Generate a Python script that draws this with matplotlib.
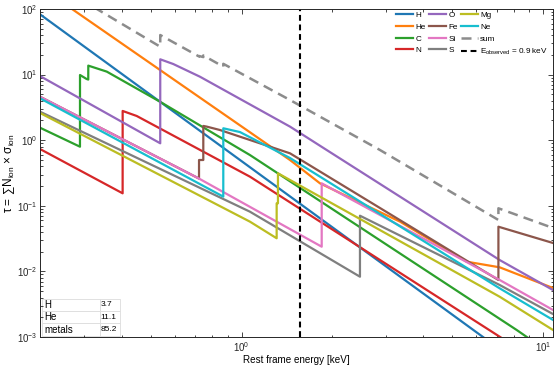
import matplotlib
matplotlib.use('Agg')
import matplotlib.pyplot as plt
from matplotlib.ticker import LogLocator, LogFormatterSciNotation, NullFormatter

plt.rcParams['font.family'] = ['Liberation Sans', 'DejaVu Sans']
plt.rcParams['mathtext.fontset'] = 'custom'
plt.rcParams['mathtext.rm'] = 'Liberation Sans'
plt.rcParams['mathtext.it'] = 'Liberation Sans:italic'
plt.rcParams['mathtext.bf'] = 'Liberation Sans:bold'

# ---------------- data (rest-frame energy [keV], optical depth) ----------------
h_energy = [0.2144, 6.31, 10.77]
h_tau = [83.0, 1.0e-3, 1.7e-4]

he_energy = [0.2144, 0.2737, 1.446, 1.818, 3.349, 5.572, 7.168, 10.77]
he_tau = [218.0, 100.0, 0.499, 0.220, 0.0573, 0.01406, 0.01154, 0.00558]

c_energy = [0.2144, 0.2909, 0.2910, 0.306, 0.3099, 0.3100, 0.357, 0.536, 1.065, 8.16, 10.77]
c_tau = [1.55, 0.796, 9.86, 8.57, 8.4, 13.7, 11.1, 3.86, 0.594, 0.00128, 0.00053]

n_energy = [0.2144, 0.4029, 0.4030, 0.4486, 1.065, 7.168, 10.77]
n_tau = [0.734, 0.155, 2.79, 2.34, 0.278, 0.00101, 0.0003]

o_energy = [0.2144, 0.5369, 0.5370, 0.593, 0.727, 1.446, 1.913, 7.168, 10.77]
o_tau = [9.5, 0.897, 17.1, 14.5, 9.29, 1.61, 0.709, 0.0149, 0.0052]

fe_energy = [0.2144, 0.7219, 0.7220, 0.7459, 0.7460, 0.766, 0.847, 1.446, 7.099, 7.100, 10.77]
fe_tau = [4.6, 0.26, 0.499, 0.499, 1.65, 1.61, 1.43, 0.631, 0.0074, 0.048, 0.0271]

si_energy = [0.2144, 0.7219, 1.8419, 1.8420, 7.168, 10.77]
si_tau = [4.6, 0.26, 0.0238, 0.220, 0.0074, 0.00258]

s_energy = [0.2144, 1.065, 2.4669, 2.4670, 7.168, 10.77]
s_tau = [2.72, 0.0813, 0.0083, 0.0706, 0.00621, 0.00224]

mg_energy = [0.2144, 1.065, 1.3059, 1.3060, 1.3189, 1.3190, 7.168, 10.77]
mg_tau = [2.6, 0.0573, 0.032, 0.109, 0.109, 0.313, 0.00411, 0.00128]

ne_energy = [0.2144, 0.8689, 0.8690, 0.987, 1.446, 7.168, 10.77]
ne_tau = [4.35, 0.138, 1.52, 1.33, 0.535, 0.00552, 0.00182]

sum_energy = [0.2144, 0.331, 0.5369, 0.5370, 0.7219, 0.7220, 0.7459, 0.7460, 0.8689, 0.8690,
              1.446, 2.874, 7.099, 7.100, 10.77]
sum_tau = [330.0, 100.0, 26.6, 40.1, 18.9, 19.2, 18.5, 19.6, 13.2, 14.6,
           4.10, 0.709, 0.0608, 0.0916, 0.0459]

e_observed = 0.9
e_observed_rest = 1.56

abund_labels = ['H', 'He', 'metals']
abund_values = ['3.7', '11.1', '85.2']

series = [
    ('H', h_energy, h_tau, 'tab:blue'),
    ('He', he_energy, he_tau, 'tab:orange'),
    ('C', c_energy, c_tau, 'tab:green'),
    ('N', n_energy, n_tau, 'tab:red'),
    ('O', o_energy, o_tau, 'tab:purple'),
    ('Fe', fe_energy, fe_tau, 'tab:brown'),
    ('Si', si_energy, si_tau, 'tab:pink'),
    ('S', s_energy, s_tau, 'tab:gray'),
    ('Mg', mg_energy, mg_tau, 'tab:olive'),
    ('Ne', ne_energy, ne_tau, 'tab:cyan'),
]

# ---------------- figure ----------------
fig = plt.figure(figsize=(5.56, 3.71), dpi=100)
ax = fig.add_axes([40 / 556, 1 - 337 / 371, 513 / 556, 328 / 371])

for name, e, t, col in series:
    ax.plot(e, t, color=col, lw=1.6, label=name)
ax.plot(sum_energy, sum_tau, color='#8c8c8c', lw=1.8, ls=(0, (4, 2.5)), label='sum')
ax.axvline(e_observed_rest, color='black', lw=1.5, ls=(0, (2.8, 1.8)),
           label=r'E$_{\rm observed}$ = %.1f keV' % e_observed)

ax.set_xscale('log')
ax.set_yscale('log')
ax.set_xlim(0.2144, 10.77)
ax.set_ylim(1e-3, 1e2)

ax.xaxis.set_major_locator(LogLocator(base=10))
ax.yaxis.set_major_locator(LogLocator(base=10))
ax.xaxis.set_minor_locator(LogLocator(base=10, subs=range(2, 10)))
ax.yaxis.set_minor_locator(LogLocator(base=10, subs=range(2, 10)))
ax.xaxis.set_minor_formatter(NullFormatter())
ax.yaxis.set_minor_formatter(NullFormatter())
ax.xaxis.set_major_formatter(LogFormatterSciNotation())
ax.yaxis.set_major_formatter(LogFormatterSciNotation())

ax.tick_params(which='both', direction='in', top=True, right=True, colors='#262626',
               labelsize=7, width=0.6, pad=2)
ax.tick_params(which='major', length=3.5)
ax.tick_params(which='minor', length=1.8)
for sp in ax.spines.values():
    sp.set_color('#262626')
    sp.set_linewidth(0.7)

ax.set_xlabel('Rest frame energy [keV]', fontsize=7.1, labelpad=1)
ax.set_ylabel(r'$\mathrm{\tau}$ = $\sum$N$_{\rm ion}$ $\times$ $\mathrm{\sigma}_{\rm ion}$', fontsize=8.5)
ax.yaxis.set_label_coords(-0.045, 0.5)

leg = ax.legend(ncol=3, loc='upper right', bbox_to_anchor=(1.0, 1.007), frameon=False,
                fontsize=5.9, handlelength=2.1, handletextpad=0.25, columnspacing=0.4,
                labelspacing=0.48, borderaxespad=0.2)

tab = ax.table(cellText=[[l, v] for l, v in zip(abund_labels, abund_values)],
               colWidths=[0.112, 0.04], loc='lower left', cellLoc='left',
               bbox=[0.004, 0.004, 0.152, 0.113])
tab.auto_set_font_size(False)
for (r, c), cell in tab.get_celld().items():
    cell.set_edgecolor('#dcdcdc')
    cell.set_linewidth(0.6)
    cell.PAD = 0.04
    cell.get_text().set_fontsize(7 if c == 0 else 6)

fig.savefig('out.png', dpi=100)
